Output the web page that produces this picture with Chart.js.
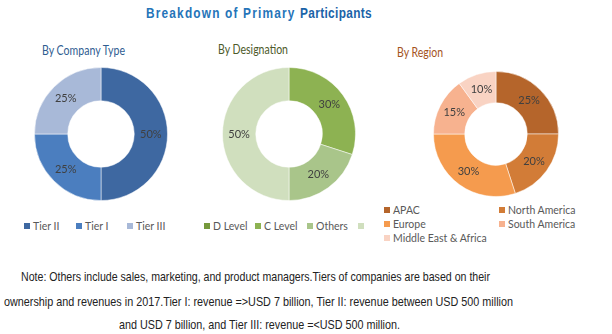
<!DOCTYPE html>
<html>
<head>
<meta charset="utf-8">
<script src="https://cdn.jsdelivr.net/npm/chart.js@4.4.0/dist/chart.umd.min.js"></script>
<style>
  body { margin: 0; width: 612px; height: 334px; background: #fff; position: relative; overflow: hidden; font-family: Lato, sans-serif; }
  .abs { position: absolute; white-space: nowrap; transform-origin: 0 0; }
  #title { top: 5px; left: 146px; font: bold 14px "Liberation Sans", sans-serif; letter-spacing: 1.4px; color: #2574b9; }
  #title b { color: #1a63a8; letter-spacing: 0.4px; }
  .sub { font-size: 13px; }
  .legend { font-size: 10.5px; color: #595959; }
  .legend span.item { position: absolute; white-space: nowrap; }
  .legend i { display: inline-block; width: 6px; height: 6px; margin-right: 3px; vertical-align: 1px; }
  .note { font: 13px "Liberation Sans", sans-serif; color: #222; }
</style>
</head>
<body>
<div id="title" class="abs" data-w="226">Breakdown of Primary <b>Participants</b></div>
<div class="abs sub" data-w="83" style="left:42px;top:42px;color:#2f5d91">By Company Type</div>
<div class="abs sub" data-w="70" style="left:218px;top:41px;color:#4d5a2a">By Designation</div>
<div class="abs sub" data-w="46" style="left:397px;top:44px;color:#a4531c">By Region</div>

<canvas id="company" class="abs" style="left:34px;top:67px" width="134" height="134"></canvas>
<canvas id="designation" class="abs" style="left:222px;top:67px" width="134" height="134"></canvas>
<canvas id="region" class="abs" style="left:433px;top:71px" width="126" height="126"></canvas>

<div id="legCompany" class="abs legend" style="left:0;top:0"></div>
<div id="legDesignation" class="abs legend" style="left:0;top:0"></div>
<div id="legRegion" class="abs legend" style="left:0;top:0"></div>

<div class="abs note" data-w="469" style="left:21px;top:269px">Note: Others include sales, marketing, and product managers.Tiers of companies are based on their</div>
<div class="abs note" data-w="509" style="left:4px;top:294px">ownership and revenues in 2017.Tier I: revenue =&gt;USD 7 billion, Tier II: revenue between USD 500 million</div>
<div class="abs note" data-w="281" style="left:119px;top:317px">and USD 7 billion, and Tier III: revenue =&lt;USD 500 million.</div>

<script>
// данные
const companyLabels = ['Tier II', 'Tier I', 'Tier III'];
const companyValues = [50, 25, 25];
const companyColors = ['#3e68a1', '#4b7ebf', '#a8b9d8'];

const designationLabels = ['D Level', 'C Level', 'Others', ''];
const designationValues = [0, 30, 20, 50];
const designationColors = ['#76993c', '#8db252', '#a9c58a', '#d0dfbe'];

const regionLabels = ['APAC', 'North America', 'Europe', 'South America', 'Middle East & Africa'];
const regionValues = [25, 20, 30, 15, 10];
const regionColors = ['#b5652b', '#d27c37', '#f59b4e', '#f7b28f', '#f9d3c3'];

// подгонка ширины текстовых строк
document.querySelectorAll('[data-w]').forEach(el => {
  const w = el.getBoundingClientRect().width;
  el.style.transform = 'scaleX(' + (parseFloat(el.dataset.w) / w) + ')';
});

// подписи процентов на секторах
const percentLabels = {
  id: 'percentLabels',
  afterDatasetsDraw(chart) {
    const ctx = chart.ctx;
    const ds = chart.data.datasets[0];
    ctx.save();
    ctx.font = '11px Lato, sans-serif';
    ctx.fillStyle = '#404040';
    ctx.textAlign = 'center';
    ctx.textBaseline = 'middle';
    chart.getDatasetMeta(0).data.forEach((arc, i) => {
      if (!ds.data[i]) return;
      const p = arc.tooltipPosition();
      ctx.fillText(ds.data[i] + '%', p.x, p.y);
    });
    ctx.restore();
  }
};

function donut(id, labels, values, colors) {
  return new Chart(document.getElementById(id), {
    type: 'doughnut',
    data: {
      labels: labels,
      datasets: [{
        data: values,
        backgroundColor: colors,
        borderColor: 'rgba(255,255,255,0.5)',
        borderWidth: 1,
        hoverBorderWidth: 1
      }]
    },
    options: {
      responsive: false,
      animation: false,
      cutout: '50%',
      layout: { padding: 0 },
      plugins: { legend: { display: false }, tooltip: { enabled: false } }
    },
    plugins: [percentLabels]
  });
}

donut('company', companyLabels, companyValues, companyColors);
donut('designation', designationLabels, designationValues, designationColors);
donut('region', regionLabels, regionValues, regionColors);

// легенды
function legend(id, labels, colors, spots) {
  const box = document.getElementById(id);
  labels.forEach((lab, i) => {
    const s = document.createElement('span');
    s.className = 'item';
    s.style.left = spots[i][0] + 'px';
    s.style.top = spots[i][1] + 'px';
    s.innerHTML = '<i style="background:' + colors[i] + '"></i>' + lab;
    box.appendChild(s);
  });
}
legend('legCompany', companyLabels, companyColors, [[24, 220], [76, 220], [127, 220]]);
legend('legDesignation', designationLabels, designationColors, [[204, 220], [255, 220], [307, 220], [358, 220]]);
legend('legRegion', regionLabels, regionColors, [[384, 204], [499, 204], [384, 218], [499, 218], [384, 232]]);
</script>
</body>
</html>
